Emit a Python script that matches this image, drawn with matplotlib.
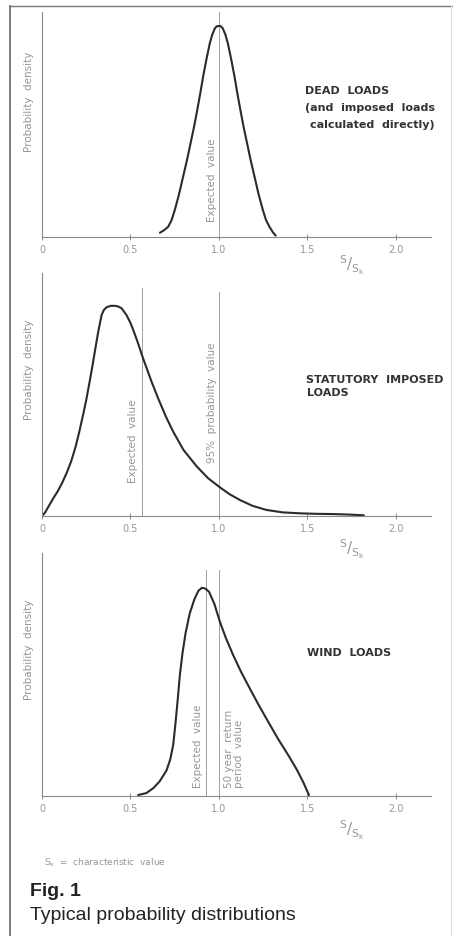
import matplotlib
matplotlib.use("Agg")
import matplotlib.pyplot as plt
from matplotlib.lines import Line2D

plt.rcParams["mathtext.default"] = "regular"

# values (x = S/Sk, y = relative probability density)
dead_x = [0.667, 0.690, 0.714, 0.733, 0.751, 0.775, 0.798, 0.820, 0.840, 0.860, 0.878,
          0.895, 0.911, 0.930, 0.949, 0.963, 0.978, 0.990, 1.000, 1.010, 1.022, 1.037,
          1.051, 1.070, 1.089, 1.105, 1.122, 1.140, 1.160, 1.180, 1.202, 1.225, 1.249,
          1.267, 1.286, 1.305, 1.322]
dead_y = [0.019, 0.030, 0.046, 0.075, 0.120, 0.190, 0.268, 0.342, 0.416, 0.490, 0.564,
          0.638, 0.712, 0.790, 0.861, 0.900, 0.928, 0.937, 0.938, 0.937, 0.928, 0.900,
          0.861, 0.790, 0.712, 0.638, 0.564, 0.490, 0.416, 0.342, 0.268, 0.190, 0.120,
          0.075, 0.046, 0.022, 0.006]

stat_x = [0.000, 0.018, 0.036, 0.064, 0.090, 0.115, 0.140, 0.165, 0.190, 0.211, 0.232,
          0.252, 0.270, 0.286, 0.302, 0.318, 0.337, 0.350, 0.365, 0.390, 0.412, 0.432,
          0.450, 0.478, 0.500, 0.520, 0.546, 0.572, 0.597, 0.620, 0.657, 0.700, 0.742,
          0.800, 0.874, 0.940, 1.006, 1.060, 1.119, 1.190, 1.269, 1.360, 1.458, 1.550,
          1.645, 1.730, 1.820]
stat_y = [0.000, 0.015, 0.038, 0.073, 0.103, 0.138, 0.178, 0.225, 0.285, 0.347, 0.415,
          0.484, 0.555, 0.621, 0.690, 0.758, 0.827, 0.848, 0.859, 0.865, 0.865, 0.862,
          0.855, 0.827, 0.795, 0.758, 0.705, 0.648, 0.598, 0.552, 0.484, 0.410, 0.347,
          0.272, 0.205, 0.155, 0.118, 0.090, 0.066, 0.042, 0.025, 0.015, 0.011, 0.009,
          0.008, 0.006, 0.003]

wind_x = [0.544, 0.590, 0.629, 0.665, 0.704, 0.725, 0.742, 0.755, 0.768, 0.780, 0.795,
          0.812, 0.835, 0.862, 0.885, 0.905, 0.925, 0.945, 0.975, 1.006, 1.040, 1.081,
          1.125, 1.175, 1.225, 1.279, 1.335, 1.392, 1.440, 1.476, 1.510]
wind_y = [0.004, 0.012, 0.032, 0.060, 0.105, 0.150, 0.210, 0.300, 0.400, 0.500, 0.590,
          0.670, 0.750, 0.810, 0.845, 0.857, 0.853, 0.840, 0.790, 0.717, 0.650, 0.580,
          0.512, 0.443, 0.375, 0.306, 0.235, 0.169, 0.110, 0.059, 0.004]

tick_vals = [0, 0.5, 1.0, 1.5, 2.0]
tick_labels = ["0", "0.5", "1.0", "1.5", "2.0"]

dead_expected = 1.0
stat_expected = 0.563
stat_95 = 1.0
wind_expected = 0.927
wind_50yr = 1.0

W, H = 453, 936
GREY = "#969696"
DARK = "#2b2b2b"


def fx(px):
    return px / W


def fy(py):
    return 1 - py / H


def make_axes(fig, axis_py, top_py):
    ax = fig.add_axes([fx(42), fy(axis_py), 389 / W, (axis_py - top_py) / H])
    ax.set_xlim(0, 2.2)
    ax.set_ylim(0, 1)
    for s in ["top", "right"]:
        ax.spines[s].set_visible(False)
    for s in ["left", "bottom"]:
        ax.spines[s].set_color("#8a8a8a")
        ax.spines[s].set_linewidth(0.8)
    ax.set_yticks([])
    ax.set_xticks(tick_vals)
    ax.set_xticklabels(tick_labels, family="DejaVu Sans")
    ax.tick_params(axis="x", direction="inout", length=4, width=0.7, color="#8a8a8a",
                   labelcolor=GREY, labelsize=7, pad=4)
    ax.patch.set_alpha(0)
    ax.text(-0.033, 0.6, "Probability  density", rotation=90, transform=ax.transAxes,
            ha="center", va="center", fontsize=7.5, color=GREY)
    return ax


def vline(ax, x, top):
    ax.plot([x, x], [0, top], color="#a0a0a0", lw=0.7)


fig = plt.figure(figsize=(4.53, 9.36), dpi=100)

# frame around the figure
fig.add_artist(Line2D([fx(10), fx(453)], [fy(6), fy(6)], color="#777777", lw=1.0))
fig.add_artist(Line2D([fx(10), fx(10)], [fy(6), fy(936)], color="#666666", lw=1.2))
fig.add_artist(Line2D([fx(451), fx(451)], [fy(6), fy(936)], color="#dddddd", lw=0.8))

# dead loads
ax1 = make_axes(fig, 237, 12)
vline(ax1, dead_expected, 1.0)
ax1.plot(dead_x, dead_y, color=DARK, lw=1.5, solid_capstyle="round")
ax1.text(0.96, 0.067, "Expected  value", rotation=90, ha="center", va="bottom",
         fontsize=7.5, color=GREY)

# statutory imposed loads
ax2 = make_axes(fig, 516, 273)
vline(ax2, stat_expected, 0.94)
vline(ax2, stat_95, 0.92)
ax2.plot(stat_x, stat_y, color=DARK, lw=1.5, solid_capstyle="round")
ax2.text(0.514, 0.136, "Expected  value", rotation=90, ha="center", va="bottom",
         fontsize=7.5, color=GREY)
ax2.text(0.96, 0.218, "95%  probability  value", rotation=90, ha="center", va="bottom",
         fontsize=7.5, color=GREY)

# wind loads
ax3 = make_axes(fig, 796, 553)
vline(ax3, wind_expected, 0.93)
vline(ax3, wind_50yr, 0.93)
ax3.plot(wind_x, wind_y, color=DARK, lw=1.5, solid_capstyle="round")
ax3.text(0.88, 0.033, "Expected  value", rotation=90, ha="center", va="bottom",
         fontsize=7.5, color=GREY)
ax3.text(1.085, 0.033, "50 year  return\nperiod  value", rotation=90, ha="center",
         va="bottom", multialignment="left", fontsize=7.5, color=GREY, linespacing=1.0)

# bold panel captions
bold = dict(fontsize=8, fontweight="bold", color="#333333", ha="left", va="center",
            family="DejaVu Sans")
fig.text(fx(305), fy(91), "DEAD  LOADS", **bold)
fig.text(fx(305), fy(108), "(and  imposed  loads", **bold)
fig.text(fx(310), fy(125), "calculated  directly)", **bold)
fig.text(fx(306), fy(380), "STATUTORY  IMPOSED", **bold)
fig.text(fx(307), fy(393), "LOADS", **bold)
fig.text(fx(307), fy(653), "WIND  LOADS", **bold)

# S/Sk axis labels
for cy in [265, 549, 830]:
    fig.text(fx(352), fy(cy), r"$^{S}/_{S_k}$", ha="center", va="center",
             fontsize=11, color=GREY)

fig.text(fx(44), fy(863), r"S$_k$  =  characteristic  value", ha="left", va="center",
         fontsize=6.5, color=GREY)
fig.text(fx(30), fy(892), "Fig. 1", ha="left", va="center", fontsize=14,
         fontweight="bold", color="#222222", family="Liberation Sans")
fig.text(fx(30), fy(915), "Typical probability distributions", ha="left", va="center",
         fontsize=14, color="#222222", family="Liberation Sans")

fig.savefig("out.png", dpi=100, facecolor="white")
